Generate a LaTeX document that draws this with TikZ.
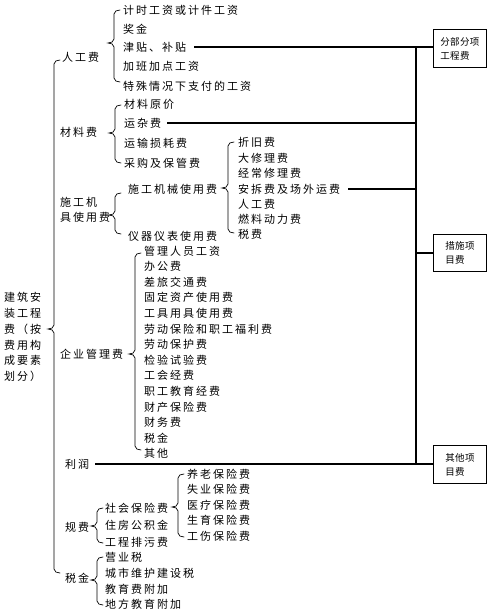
\documentclass[tikz,border=0pt]{standalone}
\usepackage{fontspec}
\newfontfamily\cjk[LetterSpace=18]{Noto Sans CJK SC}
\newfontfamily\cjkb[LetterSpace=4]{Noto Sans CJK SC}
\newcommand{\mybrace}[4]{%
  \draw[bracestyle] (#1,#2) to[out=180,in=90] (#1-6,#2+4) -- (#1-6,#3-4)
    to[out=-90,in=0] (#1-12,#3) to[out=0,in=90] (#1-6,#3+4) -- (#1-6,#4-4)
    to[out=-90,in=180] (#1,#4);}
\begin{document}
\begin{tikzpicture}[x=1pt,y=-1pt,
  txt/.style={anchor=west,inner sep=0pt,font=\cjk\fontsize{11}{15}\selectfont,align=left},
  bracestyle/.style={line width=0.7pt,line cap=round},
  conn/.style={line width=1.3pt},
  vline/.style={line width=1.6pt},
  boxnode/.style={draw,line width=0.8pt,anchor=north west,minimum width=53pt,align=left,
    inner xsep=5pt,font=\cjkb\fontsize{9.5}{14}\selectfont}]
\useasboundingbox (0,0) rectangle (500,615);
% main label
\node[txt,font=\cjk\fontsize{11}{15.8}\selectfont] (root) at (4,337) {建筑安\\装工程\\费（按\\费用构\\成要素\\划分）};
\mybrace{60}{60}{329}{573}
% level 1
\node[txt] (rg) at (62,57) {人工费};
\node[txt] (cl) at (60,132) {材料费};
\node[txt] (jj) at (60,209.5) {施工机\\具使用费};
\node[txt] (gl) at (60,354) {企业管理费};
\node[txt] (lr) at (65,464) {利润};
\node[txt] (gf) at (65,527) {规费};
\node[txt] (sj) at (65,578) {税金};
% 人工费
\mybrace{120}{10}{43}{82}
\node[txt] (rg1) at (123,10) {计时工资或计件工资};
\node[txt] (rg2) at (123,29) {奖金};
\node[txt] (jt) at (123,47) {津贴、补贴};
\node[txt] (rg4) at (123,66) {加班加点工资};
\node[txt] (rg5) at (123,86) {特殊情况下支付的工资};
% 材料费
\mybrace{121}{105}{133}{163}
\node[txt] (cl1) at (124,104) {材料原价};
\node[txt] (yz) at (124,123) {运杂费};
\node[txt] (cl3) at (124,143) {运输损耗费};
\node[txt] (cl4) at (124,163) {采购及保管费};
% 施工机具使用费
\mybrace{121}{193}{215}{234}
\node[txt] (jx) at (128,189) {施工机械使用费};
\node[txt] (yq) at (128,236) {仪器仪表使用费};
\mybrace{234}{142}{188}{233}
\node[txt] (jx1) at (238,142) {折旧费};
\node[txt] (jx2) at (238,158) {大修理费};
\node[txt] (jx3) at (238,173) {经常修理费};
\node[txt] (ac) at (238,189) {安拆费及场外运费};
\node[txt] (jx5) at (238,204) {人工费};
\node[txt] (jx6) at (238,219) {燃料动力费};
\node[txt] (jx7) at (238,234) {税费};
% 企业管理费
\mybrace{141}{253}{354}{450}
\node[txt] (g1) at (144,251) {管理人员工资};
\node[txt] (g2) at (144,266.6) {办公费};
\node[txt] (g3) at (144,282.2) {差旅交通费};
\node[txt] (g4) at (144,297.8) {固定资产使用费};
\node[txt] (g5) at (144,313.4) {工具用具使用费};
\node[txt] (g6) at (144,329) {劳动保险和职工福利费};
\node[txt] (g7) at (144,344.6) {劳动保护费};
\node[txt] (g8) at (144,360.2) {检验试验费};
\node[txt] (g9) at (144,375.8) {工会经费};
\node[txt] (g10) at (144,391.4) {职工教育经费};
\node[txt] (g11) at (144,407) {财产保险费};
\node[txt] (g12) at (144,422.6) {财务费};
\node[txt] (g13) at (144,438.2) {税金};
\node[txt] (g14) at (144,453.8) {其他};
% 规费
\mybrace{103}{508}{526}{543}
\node[txt] (sb) at (105,508) {社会保险费};
\node[txt] (gf2) at (105,525) {住房公积金};
\node[txt] (gf3) at (105,542) {工程排污费};
\mybrace{184}{474}{507}{537}
\node[txt] (sb1) at (187,474) {养老保险费};
\node[txt] (sb2) at (187,489) {失业保险费};
\node[txt] (sb3) at (187,505) {医疗保险费};
\node[txt] (sb4) at (187,520) {生育保险费};
\node[txt] (sb5) at (187,536) {工伤保险费};
% 税金
\mybrace{103}{557}{580}{605}
\node[txt] (sj1) at (105,557) {营业税};
\node[txt] (sj2) at (105,573) {城市维护建设税};
\node[txt] (sj3) at (105,589) {教育费附加};
\node[txt] (sj4) at (105,604) {地方教育附加};
% boxes
\node[boxnode,minimum height=38pt] (b1) at (433,29) {分部分项\\工程费};
\node[boxnode,minimum height=37pt] (b2) at (433,234) {措施项\\目费};
\node[boxnode,minimum height=38pt] (b3) at (433,445) {其他项\\目费};
% connectors
\coordinate (v) at (416,0);
\draw[vline] (jt.east -| v) -- (lr.east -| v);
\draw[conn] ([xshift=8pt]jt.east) -- (jt.east -| b1.west);
\draw[conn] ([xshift=6pt]yz.east) -- (yz.east -| v);
\draw[conn] ([xshift=8pt]ac.east) -- (ac.east -| v);
\draw[conn] (b2.west -| v) -- (b2.west);
\draw[conn] ([xshift=6pt]lr.east) -- (lr.east -| b3.west);
\end{tikzpicture}
\end{document}
